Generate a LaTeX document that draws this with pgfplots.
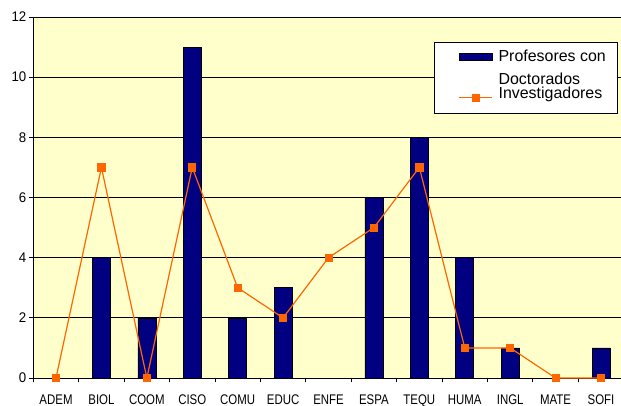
\documentclass[border=0pt]{standalone}
\usepackage{pgfplots}
\pgfplotsset{compat=1.18}
\usepackage{fontspec}
\setmainfont{Liberation Sans}
\newfontfamily\tickfont[FakeStretch=0.95]{Liberation Sans}
\newfontfamily\xtickfont[FakeStretch=0.82]{Liberation Sans}
\definecolor{navybar}{HTML}{000080}
\definecolor{orng}{HTML}{FF6600}
\definecolor{bgyellow}{HTML}{FFFFCC}
\begin{document}
\begin{tikzpicture}[x=1bp,y=1bp]
\useasboundingbox (0,0) rectangle (621,405);
\clip (0,0) rectangle (621,405);
\begin{axis}[
  at={(33.3bp,27bp)}, anchor=south west,
  scale only axis, width=590.4bp, height=361bp,
  xmin=-0.5, xmax=12.5, ymin=0, ymax=12,
  clip=false,
  axis x line*=bottom, axis y line*=left,
  axis line style={black, line width=0.8bp, -},
  axis background/.style={fill=bgyellow},
  ytick={0,2,...,12},
  ymajorgrids, major grid style={black, line width=0.8bp},
  xtick={-0.5,0.5,...,12.5},
  xticklabels={},
  extra x ticks={0,1,...,12},
  extra x tick labels={ADEM,BIOL,COOM,CISO,COMU,EDUC,ENFE,ESPA,TEQU,HUMA,INGL,MATE,SOFI},
  extra x tick style={tick style={draw=none},
    xticklabel style={yshift=-9.2bp, font=\xtickfont\fontsize{14}{16}\selectfont}},
  tick align=outside,
  major tick length=4bp,
  tick style={black, line width=0.8bp},
  tick label style={font=\tickfont\fontsize{14}{16}\selectfont},
  yticklabel style={xshift=0.5bp},
  /pgf/number format/assume math mode=true,
  legend cell align=left,
  legend style={at={(0.6787,0.9307)}, anchor=north west, draw=black, line width=0.8bp,
    fill=white, inner sep=0pt, row sep=32bp, column sep=6bp,
    nodes={inner sep=0pt, font=\fontsize{16}{19.2}\selectfont}},
]
\addplot[ybar, bar width=18bp, fill=navybar, draw=black, line width=0.6bp,
  legend image code/.code={
    \path (-24bp,14.5bp) (0bp,-3.5bp);
    \draw[fill=navybar, draw=black, line width=0.5bp] (0bp,-3.5bp) rectangle (33bp,3.5bp);
  }]
  coordinates {(1,4) (2,2) (3,11) (4,2) (5,3) (7,6) (8,8) (9,4) (10,1) (12,1)};
\addlegendentry{\smash{\raisebox{-5.5bp}{\begin{tabular}[t]{@{}l@{}}Profesores con\hspace*{12bp}\\[3.8bp]Doctorados\end{tabular}}}}
\addplot[sharp plot, orng, line width=1.2bp, mark=square*, mark size=3.6bp,
  mark options={fill=orng, draw=orng, line width=0.8bp},
  legend image code/.code={
    \path (-24bp,4bp) (0bp,-15bp);
    \draw[mark repeat=2, mark phase=2, orng, line width=1.2bp, mark=square*, mark size=3.6bp,
      mark options={fill=orng, draw=orng, line width=0.8bp}]
      plot coordinates {(0bp,0bp) (16.5bp,0bp) (33bp,0bp)};
  }]
  coordinates {(0,0) (1,7) (2,0) (3,7) (4,3) (5,2) (6,4) (7,5) (8,7) (9,1) (10,1) (11,0) (12,0)};
\addlegendentry{\smash{\raisebox{-2bp}{Investigadores}}}
\end{axis}
\end{tikzpicture}
\end{document}
